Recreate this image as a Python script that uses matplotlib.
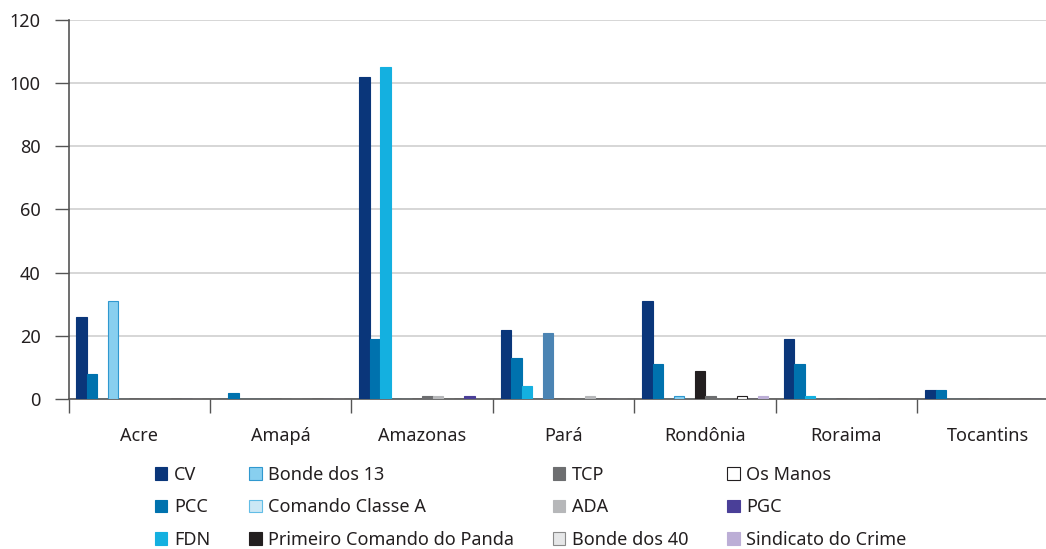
import numpy as np
import matplotlib.pyplot as plt
from matplotlib.patches import Patch

plt.rcParams['font.family'] = ['Noto Sans', 'DejaVu Sans']

states = ['Acre', 'Amapá', 'Amazonas', 'Pará', 'Rondônia', 'Roraima', 'Tocantins']

# values per faction, one per state
cv        = [26, 0, 102, 22, 31, 19, 3]
pcc       = [8, 2, 19, 13, 11, 11, 3]
fdn       = [0, 0, 105, 4, 0, 1, 0]
bonde13   = [31, 0, 0, 0, 1, 0, 0]
classe_a  = [0, 0, 0, 21, 0, 0, 0]
panda     = [0, 0, 0, 0, 9, 0, 0]
tcp       = [0, 0, 1, 0, 1, 0, 0]
ada       = [0, 0, 1, 0, 0, 0, 0]
bonde40   = [0, 0, 0, 1, 0, 0, 0]
os_manos  = [0, 0, 0, 0, 1, 0, 0]
pgc       = [0, 0, 1, 0, 0, 0, 0]
sindicato = [0, 0, 0, 0, 1, 0, 0]

series = [
    ('CV', cv, '#0a367a', '#0a367a'),
    ('PCC', pcc, '#0072ae', '#0072ae'),
    ('FDN', fdn, '#14b0e0', '#14b0e0'),
    ('Bonde dos 13', bonde13, '#88cfef', '#2f98cf'),
    ('Comando Classe A', classe_a, '#cce8f5', '#62bde6'),
    ('Primeiro Comando do Panda', panda, '#231f20', '#231f20'),
    ('TCP', tcp, '#6d6e70', '#6d6e70'),
    ('ADA', ada, '#b6b7b9', '#b6b7b9'),
    ('Bonde dos 40', bonde40, '#e6e7e8', '#8a8a8a'),
    ('Os Manos', os_manos, '#ffffff', '#231f20'),
    ('PGC', pgc, '#4a3f98', '#4a3f98'),
    ('Sindicato do Crime', sindicato, '#bcaed6', '#bcaed6'),
]

# bars in Pará that the original draws in other colours
overrides = {('Comando Classe A', 3): '#4b84b3', ('Bonde dos 40', 3): '#b6b7b9'}

fig = plt.figure(figsize=(10.46, 5.49), dpi=100)
ax = fig.add_axes([68.5 / 1046, 150 / 549, 990 / 1046, 379 / 549])

w = 10.5 / 141.5
pad = 8 / 141.5
x = np.arange(len(states))
handles = []
for i, (name, vals, fc, ec) in enumerate(series):
    fcs = [fc] * len(vals)
    ecs = [ec] * len(vals)
    for j in range(len(vals)):
        if (name, j) in overrides:
            fcs[j] = ecs[j] = overrides[(name, j)]
    ax.bar(x + pad + i * w, vals, width=w, align='edge', color=fcs,
           edgecolor=ecs, linewidth=0.8, zorder=3)
    handles.append(Patch(facecolor=fc, edgecolor=ec, linewidth=0.8, label=name))

ax.set_xlim(0, 7)
ax.set_ylim(0, 120)
ax.set_yticks(np.arange(0, 121, 20))
ax.yaxis.grid(True, color='#d0d0d0', linewidth=1.2, zorder=0)
ax.set_xticks(np.arange(0, 8))
ax.set_xticklabels([])
ax.set_xticks(x + 0.5, minor=True)
ax.set_xticklabels(states, minor=True, fontsize=13, color='#231f20')
ax.tick_params(axis='x', which='major', length=10, width=1, color='#555555', direction='out')
ax.tick_params(axis='x', which='minor', length=0, pad=20)
ax.tick_params(axis='y', length=10, width=1, color='#555555', labelsize=13,
               labelcolor='#231f20', pad=10)
for s in ['top', 'right']:
    ax.spines[s].set_visible(False)
for s in ['left', 'bottom']:
    ax.spines[s].set_color('#555555')
    ax.spines[s].set_linewidth(1.2)

fig.legend(handles=handles, ncol=4, loc='upper left', bbox_to_anchor=(0.1325, 0.181),
           frameon=False, fontsize=13, handlelength=0.7, handleheight=0.7,
           handletextpad=0.35, columnspacing=2.15, labelspacing=0.8,
           labelcolor='#231f20')

fig.savefig('out.png', dpi=100)
